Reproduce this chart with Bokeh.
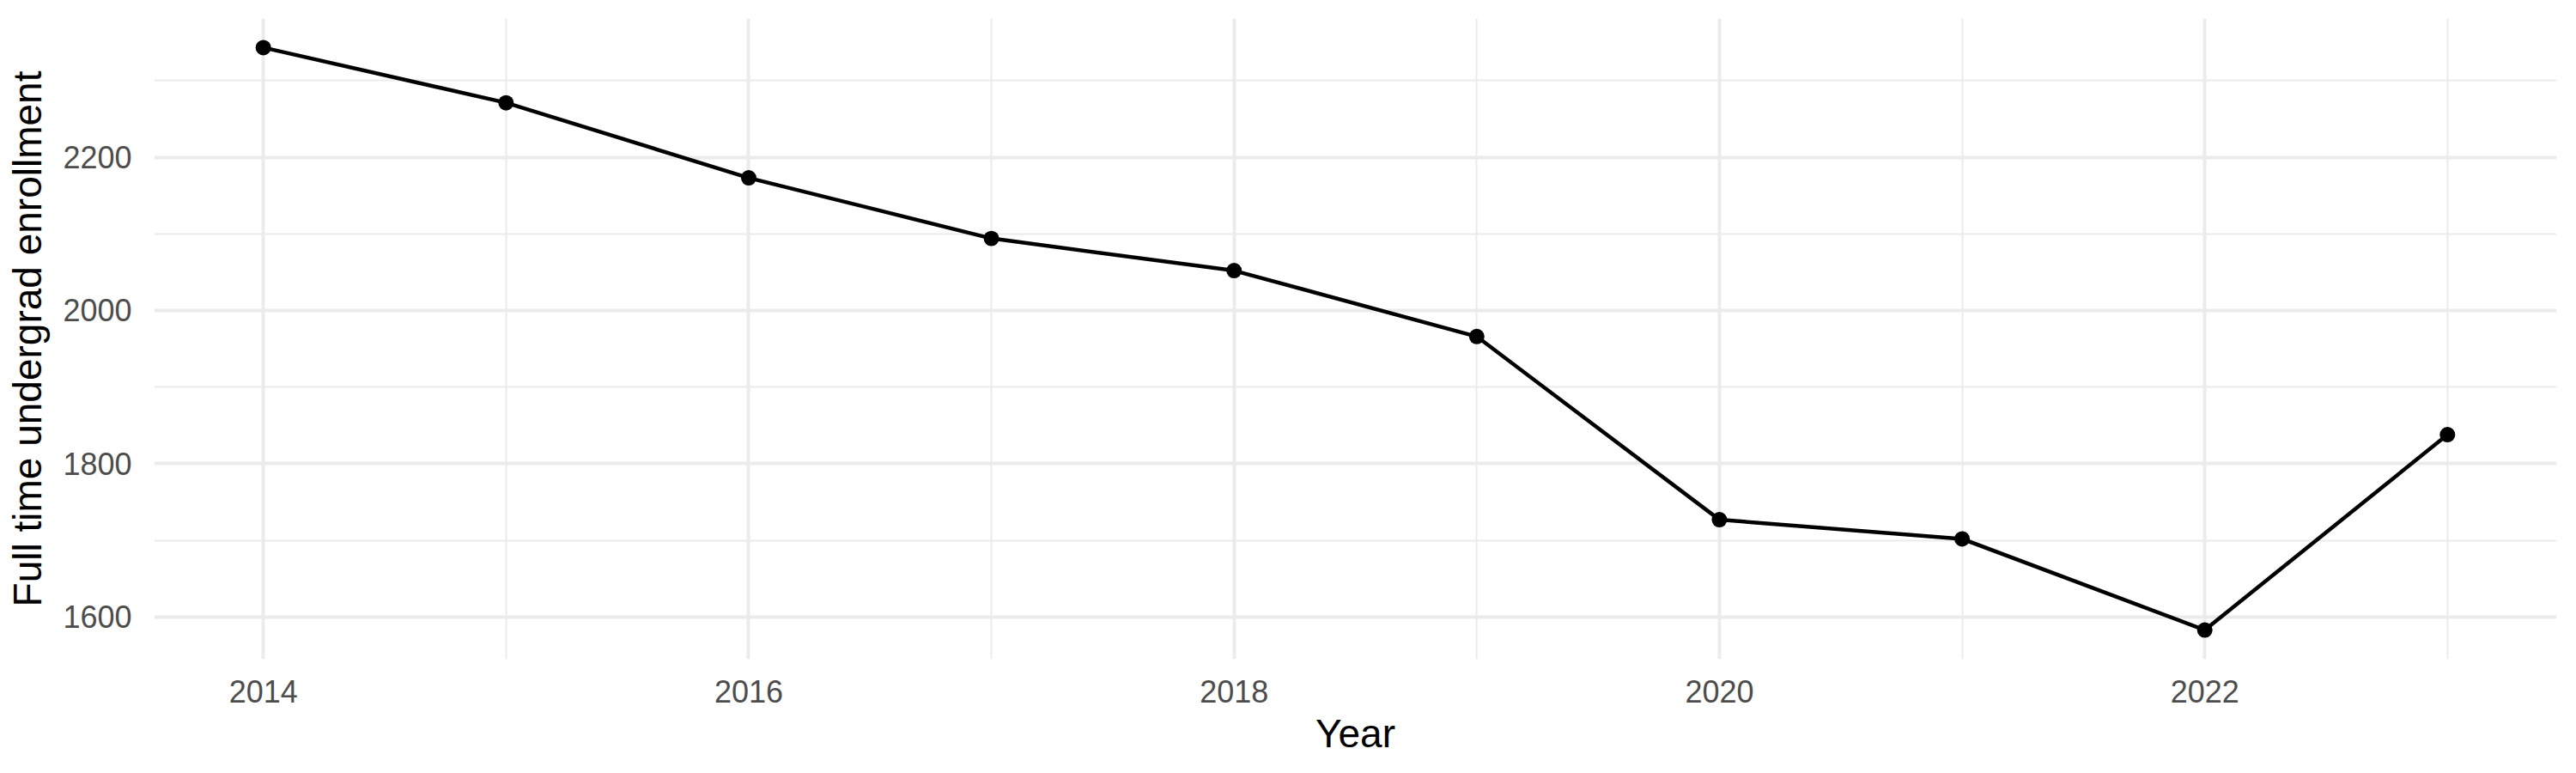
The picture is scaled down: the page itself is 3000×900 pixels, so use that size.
from bokeh.plotting import figure
from bokeh.models import Range1d, FixedTicker
from bokeh.embed import file_html
from bokeh.resources import INLINE

years = [2014, 2015, 2016, 2017, 2018, 2019, 2020, 2021, 2022, 2023]
enrollment = [2343, 2271, 2173, 2094, 2052, 1966, 1727, 1702, 1583, 1838]
x_major = [2014, 2016, 2018, 2020, 2022]
x_minor = [2015, 2017, 2019, 2021, 2023]
y_major = [1600, 1800, 2000, 2200]
y_minor = [1700, 1900, 2100, 2300]

xspan = max(years) - min(years)
yspan = max(enrollment) - min(enrollment)

p = figure(width=2984, height=884, output_backend="svg", toolbar_location=None,
           x_range=Range1d(min(years) - 0.05 * xspan, max(years) + 0.05 * xspan),
           y_range=Range1d(min(enrollment) - 0.05 * yspan, max(enrollment) + 0.05 * yspan),
           min_border_left=179, min_border_right=7, min_border_top=21, min_border_bottom=117)
p.outline_line_color = None
p.background_fill_color = "white"
p.border_fill_color = "white"

p.xaxis.ticker = FixedTicker(ticks=x_major, minor_ticks=x_minor)
p.yaxis.ticker = FixedTicker(ticks=y_major, minor_ticks=y_minor)

for ax in (p.xaxis, p.yaxis):
    ax.axis_line_color = None
    ax.major_tick_line_color = None
    ax.minor_tick_line_color = None
    ax.major_label_text_font = "Liberation Sans"
    ax.major_label_text_font_size = "36px"
    ax.major_label_text_color = "#4D4D4D"
    ax.axis_label_text_font = "Liberation Sans"
    ax.axis_label_text_font_size = "46px"
    ax.axis_label_text_font_style = "normal"
    ax.axis_label_text_color = "black"

p.xaxis.axis_label = "Year"
p.yaxis.axis_label = "Full time undergrad enrollment"
p.xaxis.major_label_standoff = 18
p.yaxis.major_label_standoff = 20
p.xaxis.axis_label_standoff = 7
p.yaxis.axis_label_standoff = 12

for g in (p.xgrid, p.ygrid):
    g.grid_line_color = "#EBEBEB"
    g.grid_line_width = 4
    g.minor_grid_line_color = "#EBEBEB"
    g.minor_grid_line_width = 2

p.line(years, enrollment, line_color="black", line_width=4.5)
p.scatter(years, enrollment, size=18, fill_color="black", line_color=None)

open("out.html", "w").write(file_html(p, INLINE))
